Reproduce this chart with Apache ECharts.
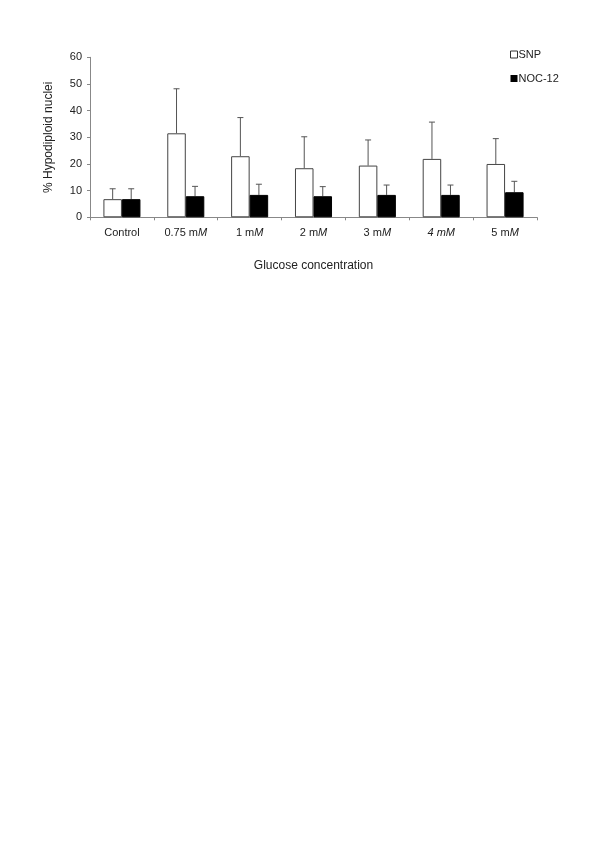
<!DOCTYPE html>
<html>
<head>
<meta charset="utf-8">
<script src="https://cdn.jsdelivr.net/npm/echarts@6/dist/echarts.min.js"></script>
<style>html,body{margin:0;padding:0;background:#fff}#c{width:600px;height:848px}</style>
</head>
<body>
<div id="c"></div>
<script>
var categories = ['Control', '0.75 mM', '1 mM', '2 mM', '3 mM', '4 mM', '5 mM'];
var snpValues = [6.8, 31.5, 22.9, 18.4, 19.4, 21.9, 20.0];
var snpErrors = [10.7, 48.2, 37.4, 30.2, 29.0, 35.7, 29.5];
var nocValues = [6.8, 7.9, 8.4, 7.9, 8.4, 8.4, 9.4];
var nocErrors = [10.7, 11.6, 12.4, 11.5, 12.1, 12.1, 13.5];
var yTicks = [0, 10, 20, 30, 40, 50, 60];

var FONT = 'Liberation Sans, Arial, sans-serif';
var GAP = 0.42;

function errSeries(name, values, errs, side) {
  return {
    type: 'custom',
    name: name + ' err',
    data: values.map(function (v, i) { return [i, v, errs[i]]; }),
    z: 1,
    silent: true,
    renderItem: function (params, api) {
      var i = api.value(0);
      var base = api.coord([i, api.value(1)]);
      var top = api.coord([i, api.value(2)]);
      var cw = api.size([1, 0])[0];
      var bw = cw * (1 - GAP) / 2;
      var x = base[0] + side * bw / 2;
      var cap = 3;
      return {
        type: 'group',
        children: [
          { type: 'line', shape: { x1: x, y1: base[1], x2: x, y2: top[1] }, style: { stroke: '#555', lineWidth: 1 } },
          { type: 'line', shape: { x1: x - cap, y1: top[1], x2: x + cap, y2: top[1] }, style: { stroke: '#555', lineWidth: 1 } }
        ]
      };
    }
  };
}

var chart = echarts.init(document.getElementById('c'));
chart.setOption({
  backgroundColor: '#fff',
  animation: false,
  textStyle: { fontFamily: FONT },
  legend: {
    orient: 'vertical',
    left: 505,
    top: 44,
    itemWidth: 7,
    itemHeight: 7,
    itemGap: 13,
    icon: 'rect',
    textStyle: { fontSize: 11, color: '#222', fontFamily: FONT, padding: [0, 0, 0, -4] },
    data: [
      { name: 'SNP', itemStyle: { color: '#fff', borderColor: '#333', borderWidth: 1 } },
      { name: 'NOC-12', itemStyle: { color: '#000', borderWidth: 0 } }
    ]
  },
  grid: { left: 90, right: 63, top: 57.3, bottom: 630.7, containLabel: false },
  xAxis: {
    type: 'category',
    data: categories,
    name: 'Glucose concentration',
    nameLocation: 'middle',
    nameGap: 42,
    nameTextStyle: { fontSize: 12, color: '#222', fontFamily: FONT },
    axisLine: { lineStyle: { color: '#888' } },
    axisTick: { show: true, length: 3, lineStyle: { color: '#888' } },
    axisLabel: {
      interval: 0,
      margin: 10,
      fontSize: 11,
      color: '#222',
      fontFamily: FONT,
      formatter: function (v) {
        if (v === 'Control') return '{n|Control}';
        if (v === '4 mM') return '{i|4 mM}';
        return '{n|' + v.slice(0, -1) + '}{i|M}';
      },
      rich: {
        n: { fontSize: 11, color: '#222', fontFamily: FONT },
        i: { fontSize: 11, color: '#222', fontFamily: FONT, fontStyle: 'italic' }
      }
    }
  },
  yAxis: {
    type: 'value',
    min: 0,
    max: 60,
    interval: 10,
    name: '% Hypodiploid nuclei',
    nameLocation: 'middle',
    nameGap: 35,
    nameRotate: 90,
    nameTextStyle: { fontSize: 12, color: '#222', fontFamily: FONT },
    axisLine: { show: true, lineStyle: { color: '#888' } },
    axisTick: { show: true, length: 3, lineStyle: { color: '#888' } },
    splitLine: { show: false },
    axisLabel: {
      fontSize: 11, color: '#222', fontFamily: FONT, margin: 8,
      formatter: function (v) { return yTicks.indexOf(v) >= 0 ? String(v) : ''; }
    }
  },
  series: [
    {
      name: 'SNP', type: 'bar', data: snpValues, barGap: '0%', barCategoryGap: (GAP * 100) + '%',
      itemStyle: { color: '#fff', borderColor: '#444', borderWidth: 1 }, z: 2
    },
    {
      name: 'NOC-12', type: 'bar', data: nocValues, barGap: '0%', barCategoryGap: (GAP * 100) + '%',
      itemStyle: { color: '#000', borderColor: '#000', borderWidth: 1 }, z: 2
    },
    errSeries('SNP', snpValues, snpErrors, -1),
    errSeries('NOC-12', nocValues, nocErrors, 1)
  ]
});
</script>
</body>
</html>
